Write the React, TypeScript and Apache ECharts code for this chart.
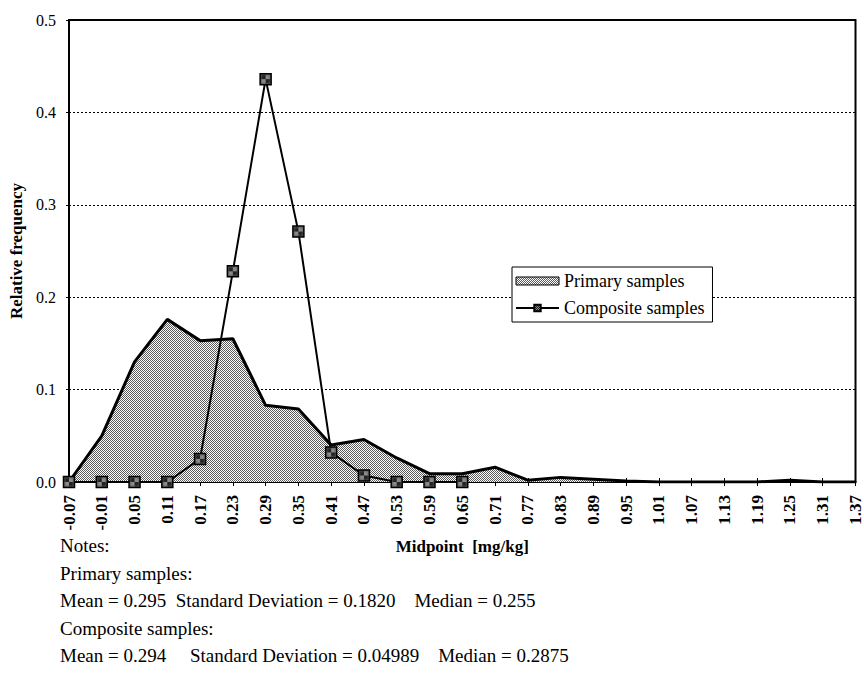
import React, { useEffect, useRef } from "react";
import * as echarts from "echarts";

const categories = ["-0.07","-0.01","0.05","0.11","0.17","0.23","0.29","0.35","0.41","0.47","0.53","0.59","0.65","0.71","0.77","0.83","0.89","0.95","1.01","1.07","1.13","1.19","1.25","1.31","1.37"];
const primary = [0, 0.05, 0.13, 0.176, 0.153, 0.155, 0.083, 0.079, 0.04, 0.046, 0.026, 0.009, 0.009, 0.016, 0.002, 0.005, 0.003, 0.001, 0, 0, 0, 0, 0.002, 0, 0];
const composite: (number | string)[] = [0, 0, 0, 0, 0.025, 0.228, 0.436, 0.271, 0.032, 0.007, 0, 0, 0, "-", "-", "-", "-", "-", "-", "-", "-", "-", "-", "-", "-"];
const yTicks = { min: 0, max: 0.5, interval: 0.1 };
const notes = [
  "Notes:",
  "Primary samples:",
  "Mean = 0.295  Standard Deviation = 0.1820    Median = 0.255",
  "Composite samples:",
  "Mean = 0.294     Standard Deviation = 0.04989    Median = 0.2875",
];

function makePattern(dark: string, light: string) {
  const c = document.createElement("canvas");
  c.width = 2;
  c.height = 2;
  const ctx = c.getContext("2d")!;
  ctx.fillStyle = light;
  ctx.fillRect(0, 0, 2, 2);
  ctx.fillStyle = dark;
  ctx.fillRect(0, 0, 1, 1);
  ctx.fillRect(1, 1, 1, 1);
  return { image: c, repeat: "repeat" as const };
}

export default function App() {
  const ref = useRef<HTMLDivElement>(null);
  useEffect(() => {
    if (!ref.current) return;
    const chart = echarts.init(ref.current, undefined, { renderer: "svg" });
    const fill = makePattern("#5a5a5a", "#ffffff");
    const markerFill = makePattern("#222222", "#8a8a8a");
    const serif = "Liberation Serif";
    chart.setOption({
      animation: false,
      backgroundColor: "#fff",
      textStyle: { fontFamily: serif, color: "#000" },
      grid: { left: 66, top: 20, right: 8, bottom: 204, show: true, borderColor: "#000", borderWidth: 2, containLabel: false },
      legend: {
        orient: "vertical",
        left: 512,
        top: 267,
        backgroundColor: "#fff",
        borderColor: "#000",
        borderWidth: 1,
        padding: [5, 8, 5, 3],
        itemGap: 9,
        itemWidth: 43,
        itemHeight: 8,
        textStyle: { fontFamily: serif, fontSize: 18, color: "#000" },
        data: [
          { name: "Primary samples", icon: "rect", itemStyle: { color: fill, borderColor: "#000", borderWidth: 1 } },
          { name: "Composite samples" },
        ],
      },
      xAxis: [
        {
          type: "category",
          data: categories,
          boundaryGap: false,
          name: "Midpoint  [mg/kg]",
          nameLocation: "middle",
          nameGap: 56,
          nameTextStyle: { fontFamily: serif, fontSize: 17, fontWeight: "bold", color: "#000" },
          axisLine: { lineStyle: { color: "#000", width: 2 } },
          axisTick: { show: true, interval: 0, length: 4, lineStyle: { color: "#000" } },
          axisLabel: { interval: 0, rotate: 90, margin: 13, fontFamily: serif, fontSize: 17, fontWeight: "bold", color: "#000" },
          splitLine: { show: false },
        },
        {
          type: "category",
          data: categories,
          boundaryGap: false,
          position: "bottom",
          axisLine: { show: false },
          axisTick: { show: true, inside: true, interval: 0, length: 4, lineStyle: { color: "#000" } },
          axisLabel: { show: false },
          splitLine: { show: false },
        },
      ],
      yAxis: {
        type: "value",
        min: yTicks.min,
        max: yTicks.max,
        interval: yTicks.interval,
        name: "Relative frequency",
        nameLocation: "middle",
        nameGap: 44,
        nameTextStyle: { fontFamily: serif, fontSize: 17, fontWeight: "bold", color: "#000" },
        axisLine: { show: true, lineStyle: { color: "#000", width: 2 } },
        axisTick: { show: true, length: 3, lineStyle: { color: "#000" } },
        axisLabel: { formatter: (v: number) => v.toFixed(1), margin: 13, fontFamily: serif, fontSize: 16, color: "#000" },
        splitLine: { show: true, lineStyle: { color: "#000", width: 1, type: [2, 2] } },
      },
      series: [
        {
          name: "Primary samples",
          type: "line",
          data: primary,
          symbol: "none",
          lineStyle: { color: "#000", width: 3 },
          itemStyle: { color: "#000" },
          areaStyle: { color: fill, opacity: 1 },
          z: 2,
        },
        {
          name: "Composite samples",
          type: "line",
          data: composite,
          symbol: "rect",
          symbolSize: 11,
          lineStyle: { color: "#000", width: 2 },
          itemStyle: { color: markerFill, borderColor: "#000", borderWidth: 1.5 },
          z: 3,
        },
      ],
      graphic: notes.map((t, i) => ({
        type: "text",
        left: 60,
        top: 536 + i * 27.5,
        style: { text: t, fontFamily: serif, fontSize: 19, fill: "#000" },
      })),
    });
    return () => chart.dispose();
  }, []);
  return <div ref={ref} style={{ width: 864, height: 686, position: "absolute", left: 0, top: 0 }} />;
}
